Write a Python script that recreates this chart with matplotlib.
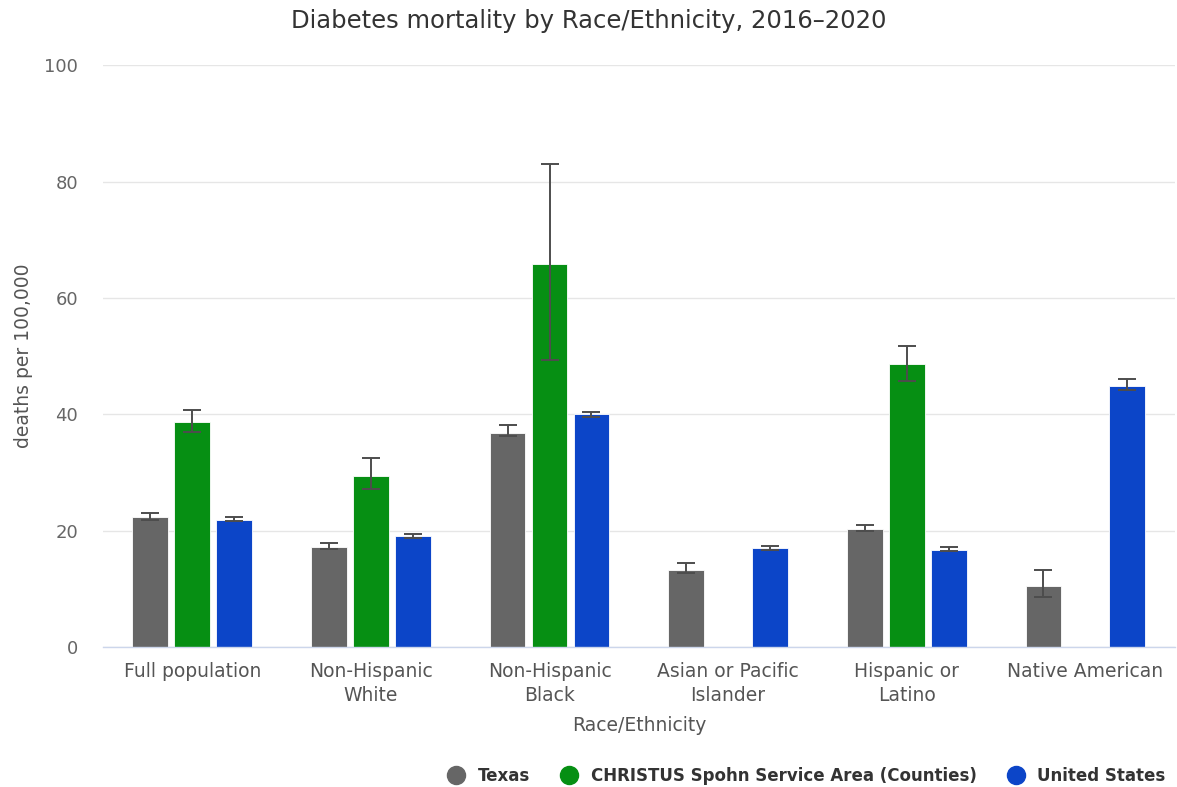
import numpy as np
import matplotlib
matplotlib.use('Agg')
import matplotlib.pyplot as plt
from matplotlib.lines import Line2D

categories = ['Full population', 'Non-Hispanic\nWhite', 'Non-Hispanic\nBlack',
              'Asian or Pacific\nIslander', 'Hispanic or\nLatino', 'Native American']
series = ['Texas', 'CHRISTUS Spohn Service Area (Counties)', 'United States']

texas = [22.4, 17.2, 36.8, 13.3, 20.3, 10.5]
texas_lo = [21.9, 16.9, 36.3, 12.7, 20.0, 8.6]
texas_hi = [23.0, 17.9, 38.1, 14.5, 21.0, 13.2]

christus = [38.7, 29.4, 65.9, np.nan, 48.6, np.nan]
christus_lo = [37.0, 27.2, 49.4, np.nan, 45.8, np.nan]
christus_hi = [40.7, 32.4, 83.1, np.nan, 51.8, np.nan]

us = [21.9, 19.0, 40.0, 17.0, 16.7, 44.9]
us_lo = [21.7, 18.8, 39.6, 16.7, 16.5, 44.1]
us_hi = [22.3, 19.4, 40.4, 17.4, 17.1, 46.1]

colors = ['#666666', '#068f13', '#0c45c8']

fig = plt.figure(figsize=(11.77, 7.87), dpi=100)
ax = fig.add_axes([0.0875, 0.178, 0.9105, 0.739])

x = np.arange(len(categories))
width = 0.2
offsets = [-0.235, 0, 0.235]
data = [(texas, texas_lo, texas_hi), (christus, christus_lo, christus_hi), (us, us_lo, us_hi)]

for k, (vals, lo, hi) in enumerate(data):
    vals = np.array(vals, dtype=float)
    lo = np.array(lo, dtype=float)
    hi = np.array(hi, dtype=float)
    pos = x + offsets[k]
    ax.bar(pos, vals, width, color=colors[k], edgecolor='white', linewidth=0.6, zorder=2)
    ok = ~np.isnan(vals)
    ax.errorbar(pos[ok], vals[ok], yerr=[vals[ok] - lo[ok], hi[ok] - vals[ok]],
                fmt='none', ecolor='#4d4d4d', elinewidth=1.4, capsize=6.8,
                capthick=1.4, zorder=3)

ax.set_xlim(-0.5, len(categories) - 0.5)
ax.set_ylim(0, 100)
ax.set_yticks([0, 20, 40, 60, 80, 100])
ax.set_xticks(x)
ax.set_xticklabels(categories, fontsize=13.5, color='#555555', linespacing=1.3)
ax.tick_params(axis='y', labelsize=13, labelcolor='#666666', length=0, pad=18)
ax.tick_params(axis='x', length=0, pad=11)
ax.grid(axis='y', color='#e6e6e6', linewidth=1, zorder=0)
ax.set_axisbelow(True)
for s in ['top', 'right', 'left']:
    ax.spines[s].set_visible(False)
ax.spines['bottom'].set_color('#ccd6eb')
ax.spines['bottom'].set_linewidth(1)

ax.set_xlabel('Race/Ethnicity', fontsize=13.5, color='#555555', labelpad=8)
ax.set_ylabel('deaths per 100,000', fontsize=13.5, color='#555555', labelpad=8)
fig.text(0.5, 0.973, 'Diabetes mortality by Race/Ethnicity, 2016–2020',
         ha='center', va='center', fontsize=17.5, color='#333333')

handles = [Line2D([0], [0], marker='o', linestyle='none', markersize=13,
                  markerfacecolor=c, markeredgecolor=c) for c in colors]
leg = fig.legend(handles, series, loc='lower right', bbox_to_anchor=(1.003, -0.016),
                 ncol=3, frameon=False, fontsize=12, handletextpad=0.3,
                 columnspacing=1.35)
for t in leg.get_texts():
    t.set_fontweight('bold')
    t.set_color('#333333')

fig.savefig('out.png', dpi=100)
